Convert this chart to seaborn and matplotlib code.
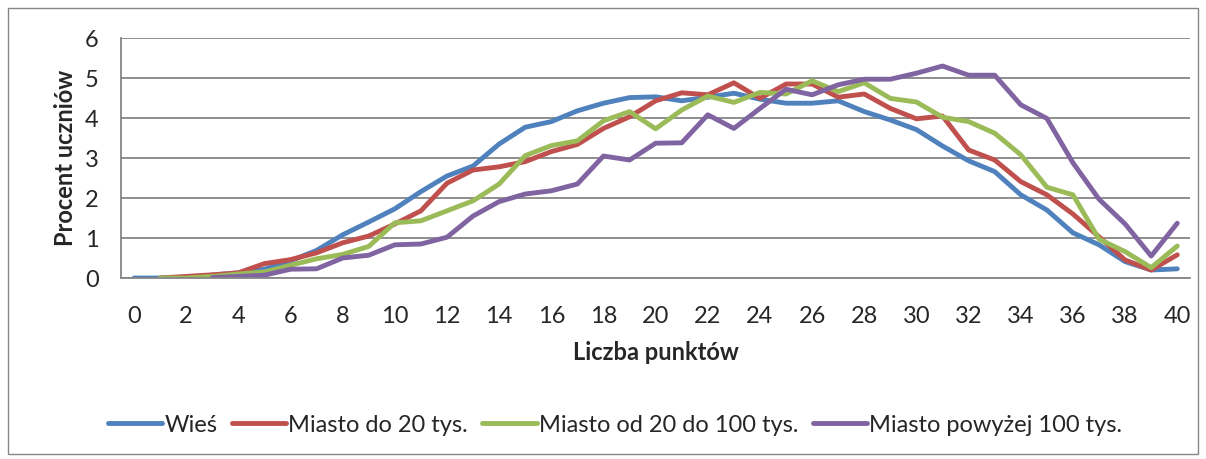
import numpy as np
import pandas as pd
import matplotlib
matplotlib.use("Agg")
import matplotlib.pyplot as plt
import seaborn as sns
from matplotlib.patches import Rectangle
from matplotlib.lines import Line2D

# ─── Data ───────────────────────────────────────────────────────────────────
points = list(range(41))

wies = [0.00, 0.00, 0.02, 0.07, 0.13, 0.22, 0.43, 0.69, 1.08, 1.40, 1.73,
        2.16, 2.55, 2.80, 3.35, 3.77, 3.91, 4.18, 4.37, 4.51, 4.53,
        4.43, 4.52, 4.62, 4.47, 4.37, 4.37, 4.43, 4.16, 3.95, 3.71,
        3.30, 2.93, 2.66, 2.08, 1.70, 1.13, 0.83, 0.41, 0.20, 0.23]

miasto_20 = [np.nan, 0.00, 0.04, 0.08, 0.13, 0.36, 0.46, 0.63, 0.88, 1.05, 1.35,
             1.68, 2.37, 2.70, 2.78, 2.91, 3.16, 3.34, 3.74, 4.03, 4.43,
             4.63, 4.58, 4.88, 4.49, 4.85, 4.85, 4.52, 4.60, 4.24, 3.98,
             4.05, 3.20, 2.95, 2.41, 2.08, 1.60, 1.03, 0.45, 0.20, 0.58]

miasto_20_100 = [np.nan, 0.00, 0.00, 0.04, 0.10, 0.15, 0.32, 0.48, 0.59, 0.79, 1.38,
                 1.43, 1.68, 1.93, 2.35, 3.06, 3.31, 3.43, 3.93, 4.16, 3.73,
                 4.20, 4.55, 4.39, 4.64, 4.60, 4.93, 4.66, 4.88, 4.49, 4.40,
                 4.02, 3.91, 3.62, 3.08, 2.27, 2.08, 0.97, 0.66, 0.26, 0.80]

miasto_100 = [np.nan, np.nan, np.nan, 0.01, 0.04, 0.07, 0.22, 0.23, 0.50, 0.57, 0.83,
              0.85, 1.02, 1.55, 1.91, 2.10, 2.18, 2.35, 3.05, 2.95, 3.37,
              3.38, 4.08, 3.74, 4.24, 4.72, 4.58, 4.83, 4.97, 4.97, 5.12,
              5.30, 5.07, 5.07, 4.33, 3.99, 2.88, 1.97, 1.35, 0.55, 1.37]

SERIES = ["Wieś", "Miasto do 20 tys.", "Miasto od 20 do 100 tys.", "Miasto powyżej 100 tys."]
COLORS = ["#4F81BD", "#C0504D", "#9BBB59", "#8064A2"]

df = pd.DataFrame({"pkt": points, SERIES[0]: wies, SERIES[1]: miasto_20,
                   SERIES[2]: miasto_20_100, SERIES[3]: miasto_100})
long = df.melt(id_vars="pkt", var_name="grupa", value_name="proc").dropna()

# ─── Plot ───────────────────────────────────────────────────────────────────
sns.set_style("white")
plt.rcParams["font.family"] = ["Lato", "DejaVu Sans"]

fig = plt.figure(figsize=(12.06, 4.59), dpi=100)
ax = fig.add_axes([0.1003, 0.3943, 0.8867, 0.5229])

sns.lineplot(data=long, x="pkt", y="proc", hue="grupa", hue_order=SERIES,
             palette=COLORS, linewidth=3.5, ax=ax, legend=False)
for ln in ax.lines:
    ln.set_solid_capstyle("round")
    ln.set_solid_joinstyle("round")

ax.set_xlim(-0.5, 40.5)
ax.set_ylim(0, 6)
ax.set_xticks(range(0, 41, 2))
ax.set_yticks(range(0, 7))
ax.yaxis.grid(True, color="#868686", linewidth=1.3)
ax.set_axisbelow(True)
for side in ["top", "right"]:
    ax.spines[side].set_visible(False)
for side in ["left", "bottom"]:
    ax.spines[side].set_color("#868686")
    ax.spines[side].set_linewidth(1.3)
ax.tick_params(axis="y", length=6, width=1.3, color="#868686", labelsize=17, pad=10)
ax.tick_params(axis="x", length=0, labelsize=17, pad=20)

ax.set_xlabel("Liczba punktów", fontsize=17, fontweight="bold", labelpad=10)
ax.set_ylabel("Procent uczniów", fontsize=17, fontweight="bold", labelpad=6)

handles = [Line2D([0], [0], color=c, linewidth=3.5, solid_capstyle="round") for c in COLORS]
fig.legend(handles, SERIES, loc="center", bbox_to_anchor=(0.51, 0.074), ncol=4,
           frameon=False, fontsize=17, handlelength=2.3, handletextpad=0.1,
           columnspacing=0.6)

fig.patches.append(Rectangle((0.007, 0.011), 0.986, 0.972, transform=fig.transFigure,
                             fill=False, edgecolor="#868686", linewidth=1.0))

fig.savefig("out.png", dpi=100)
